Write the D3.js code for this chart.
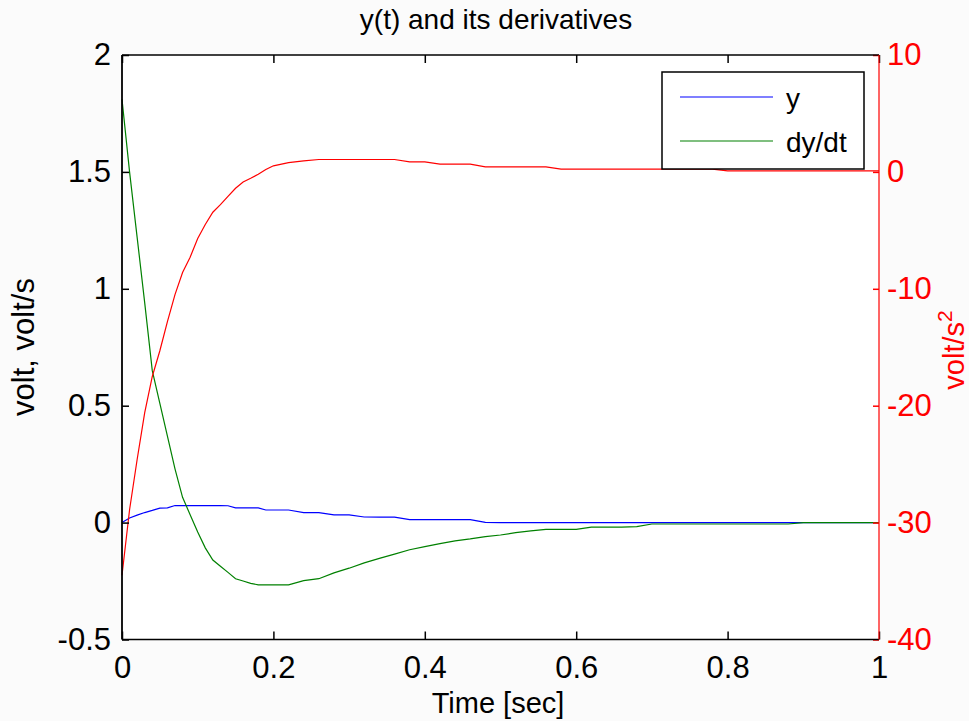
<!DOCTYPE html>
<html>
<head>
<meta charset="utf-8">
<script src="https://cdn.jsdelivr.net/npm/d3@7"></script>
<style>
  body { margin: 0; background: #fbfbfb; }
  svg text { font-family: "Liberation Sans", Arial, sans-serif; }
</style>
</head>
<body>
<svg id="chart" width="969" height="721"></svg>
<script>
// time samples (sec)
const time = [0, 0.01, 0.02, 0.03, 0.04, 0.05, 0.06, 0.07, 0.08, 0.09, 0.10,
  0.11, 0.12, 0.13, 0.14, 0.15, 0.16, 0.17, 0.18, 0.19, 0.20,
  0.22, 0.24, 0.26, 0.28, 0.30, 0.32, 0.34, 0.36, 0.38, 0.40,
  0.42, 0.44, 0.46, 0.48, 0.50, 0.52, 0.54, 0.56, 0.58, 0.60,
  0.62, 0.64, 0.66, 0.68, 0.70, 0.72, 0.74, 0.76, 0.78, 0.80,
  0.82, 0.84, 0.86, 0.88, 0.90, 0.92, 0.94, 0.96, 0.98, 1.00]

// y (volt)
const yVals = [0, 0.02, 0.032, 0.043, 0.052, 0.062, 0.063, 0.073, 0.073, 0.073, 0.073,
  0.073, 0.073, 0.073, 0.072, 0.063, 0.063, 0.063, 0.063, 0.054, 0.054,
  0.054, 0.043, 0.043, 0.033, 0.033, 0.024, 0.023, 0.023, 0.013, 0.013,
  0.013, 0.013, 0.013, 0.001, 0, 0, 0, 0, 0, 0,
  0, 0, 0, 0, 0, 0, 0, 0, 0, 0,
  0, 0, 0, 0, 0, 0, 0, 0, 0, 0]

// dy/dt (volt/s)
const dyVals = [1.81, 1.5, 1.22, 0.94, 0.65, 0.51, 0.37, 0.23, 0.108, 0.034, -0.04,
  -0.108, -0.16, -0.187, -0.213, -0.24, -0.25, -0.26, -0.266, -0.266, -0.266,
  -0.266, -0.248, -0.24, -0.215, -0.195, -0.172, -0.153, -0.135, -0.116, -0.103,
  -0.09, -0.078, -0.07, -0.06, -0.053, -0.043, -0.035, -0.029, -0.029, -0.029,
  -0.019, -0.019, -0.019, -0.017, -0.006, -0.006, -0.006, -0.006, -0.006, -0.006,
  -0.006, -0.006, -0.006, -0.006, 0, 0, 0, 0, 0, 0]

// d2y/dt2 (volt/s^2), right axis
const d2yVals = [-34.5, -28.9, -24.6, -20.6, -17.5, -15.3, -12.8, -10.5, -8.6, -7.3, -5.7,
  -4.5, -3.45, -2.8, -2.1, -1.4, -0.87, -0.55, -0.2, 0.2, 0.52,
  0.8, 0.95, 1.06, 1.06, 1.06, 1.06, 1.06, 1.06, 0.86, 0.86,
  0.66, 0.66, 0.66, 0.43, 0.43, 0.43, 0.43, 0.43, 0.23, 0.23,
  0.23, 0.23, 0.23, 0.23, 0.23, 0.23, 0.23, 0.23, 0.23, 0.08,
  0.08, 0.08, 0.08, 0.08, 0.08, 0.08, 0.08, 0.08, 0.08, 0.08]

const xTicks = [0, 0.2, 0.4, 0.6, 0.8, 1]
const leftTicks = [-0.5, 0, 0.5, 1, 1.5, 2]
const rightTicks = [-40, -30, -20, -10, 0, 10]

const legendNames = ['y', 'dy/dt']
const legendColors = ['#0000ff', '#008000']

const plot = { left: 122, right: 879, top: 55, bottom: 639.5 }
const fontSize = 31

const svg = d3.select('#chart')

const xScale = d3.scaleLinear().domain([0, 1]).range([plot.left, plot.right])
const yLeft = d3.scaleLinear().domain([-0.5, 2]).range([plot.bottom, plot.top])
const yRight = d3.scaleLinear().domain([-40, 10]).range([plot.bottom, plot.top])

// plain hyphen minus like the original
const fmt = d => String(d)

svg.append('rect')
  .attr('x', plot.left).attr('y', plot.top)
  .attr('width', plot.right - plot.left).attr('height', plot.bottom - plot.top)
  .attr('fill', '#ffffff')

const lineLeft = (vals) => d3.line()
  .x((d, i) => xScale(time[i]))
  .y(d => yLeft(d))(vals)

const lineRight = d3.line()
  .x((d, i) => xScale(time[i]))
  .y(d => yRight(d))

svg.append('path')
  .attr('d', lineLeft(yVals))
  .attr('fill', 'none').attr('stroke', '#0000ff').attr('stroke-width', 1.2)

svg.append('path')
  .attr('d', lineLeft(dyVals))
  .attr('fill', 'none').attr('stroke', '#008000').attr('stroke-width', 1.2)

svg.append('path')
  .attr('d', lineRight(d2yVals))
  .attr('fill', 'none').attr('stroke', '#ff0000').attr('stroke-width', 1.2)

// axes
const styleAxis = (g, color) => {
  g.select('.domain').remove()
  g.selectAll('line').attr('stroke', color).attr('stroke-width', 1.5)
  g.selectAll('text').attr('fill', color).style('font-size', fontSize + 'px')
    .style('font-family', '"Liberation Sans", Arial, sans-serif')
}

svg.append('g')
  .attr('transform', `translate(0, ${plot.bottom})`)
  .call(d3.axisBottom(xScale).tickValues(xTicks).tickFormat(fmt).tickSize(-8).tickPadding(16))
  .call(g => styleAxis(g, '#000'))

svg.append('g')
  .attr('transform', `translate(0, ${plot.top})`)
  .call(d3.axisTop(xScale).tickValues(xTicks).tickSize(-8).tickFormat(''))
  .call(g => styleAxis(g, '#000'))

svg.append('g')
  .attr('transform', `translate(${plot.left}, 0)`)
  .call(d3.axisLeft(yLeft).tickValues(leftTicks).tickFormat(fmt).tickSize(-7).tickPadding(11))
  .call(g => styleAxis(g, '#000'))

svg.append('g')
  .attr('transform', `translate(${plot.right}, 0)`)
  .call(d3.axisRight(yRight).tickValues(rightTicks).tickFormat(fmt).tickSize(-6).tickPadding(8))
  .call(g => styleAxis(g, '#ff0000'))

// box
svg.append('line').attr('x1', plot.left).attr('x2', plot.right).attr('y1', plot.top).attr('y2', plot.top)
  .attr('stroke', '#000').attr('stroke-width', 1.5)
svg.append('line').attr('x1', plot.left).attr('x2', plot.right).attr('y1', plot.bottom).attr('y2', plot.bottom)
  .attr('stroke', '#000').attr('stroke-width', 1.5)
svg.append('line').attr('x1', plot.left).attr('x2', plot.left).attr('y1', plot.top).attr('y2', plot.bottom)
  .attr('stroke', '#000').attr('stroke-width', 1.8)
svg.append('line').attr('x1', plot.right).attr('x2', plot.right).attr('y1', plot.top).attr('y2', plot.bottom)
  .attr('stroke', '#ff0000').attr('stroke-width', 1.2)

// legend
const legend = svg.append('g').attr('transform', 'translate(662, 72)')
legend.append('rect')
  .attr('width', 202).attr('height', 97)
  .attr('fill', '#ffffff').attr('stroke', '#000').attr('stroke-width', 1.5)

legendNames.forEach((name, i) => {
  const ly = 25 + i * 44
  legend.append('line')
    .attr('x1', 18).attr('x2', 111).attr('y1', ly).attr('y2', ly)
    .attr('stroke', legendColors[i]).attr('stroke-width', 1.2)
  legend.append('text')
    .attr('x', 124).attr('y', ly + 11)
    .style('font-size', '28px')
    .text(name)
})

// labels
svg.append('text')
  .attr('x', 496).attr('y', 29)
  .attr('text-anchor', 'middle')
  .style('font-size', '28px')
  .text('y(t) and its derivatives')

svg.append('text')
  .attr('x', 498).attr('y', 713)
  .attr('text-anchor', 'middle')
  .style('font-size', '29px')
  .text('Time [sec]')

svg.append('text')
  .attr('transform', 'translate(34, 347) rotate(-90)')
  .attr('text-anchor', 'middle')
  .style('font-size', fontSize + 'px')
  .text('volt, volt/s')

const rightLabel = svg.append('text')
  .attr('transform', 'translate(964, 350) rotate(-90)')
  .attr('text-anchor', 'middle')
  .attr('fill', '#ff0000')
  .style('font-size', '29px')
rightLabel.append('tspan').text('volt/s')
rightLabel.append('tspan').attr('dy', -12).style('font-size', '21px').text('2')
</script>
</body>
</html>
